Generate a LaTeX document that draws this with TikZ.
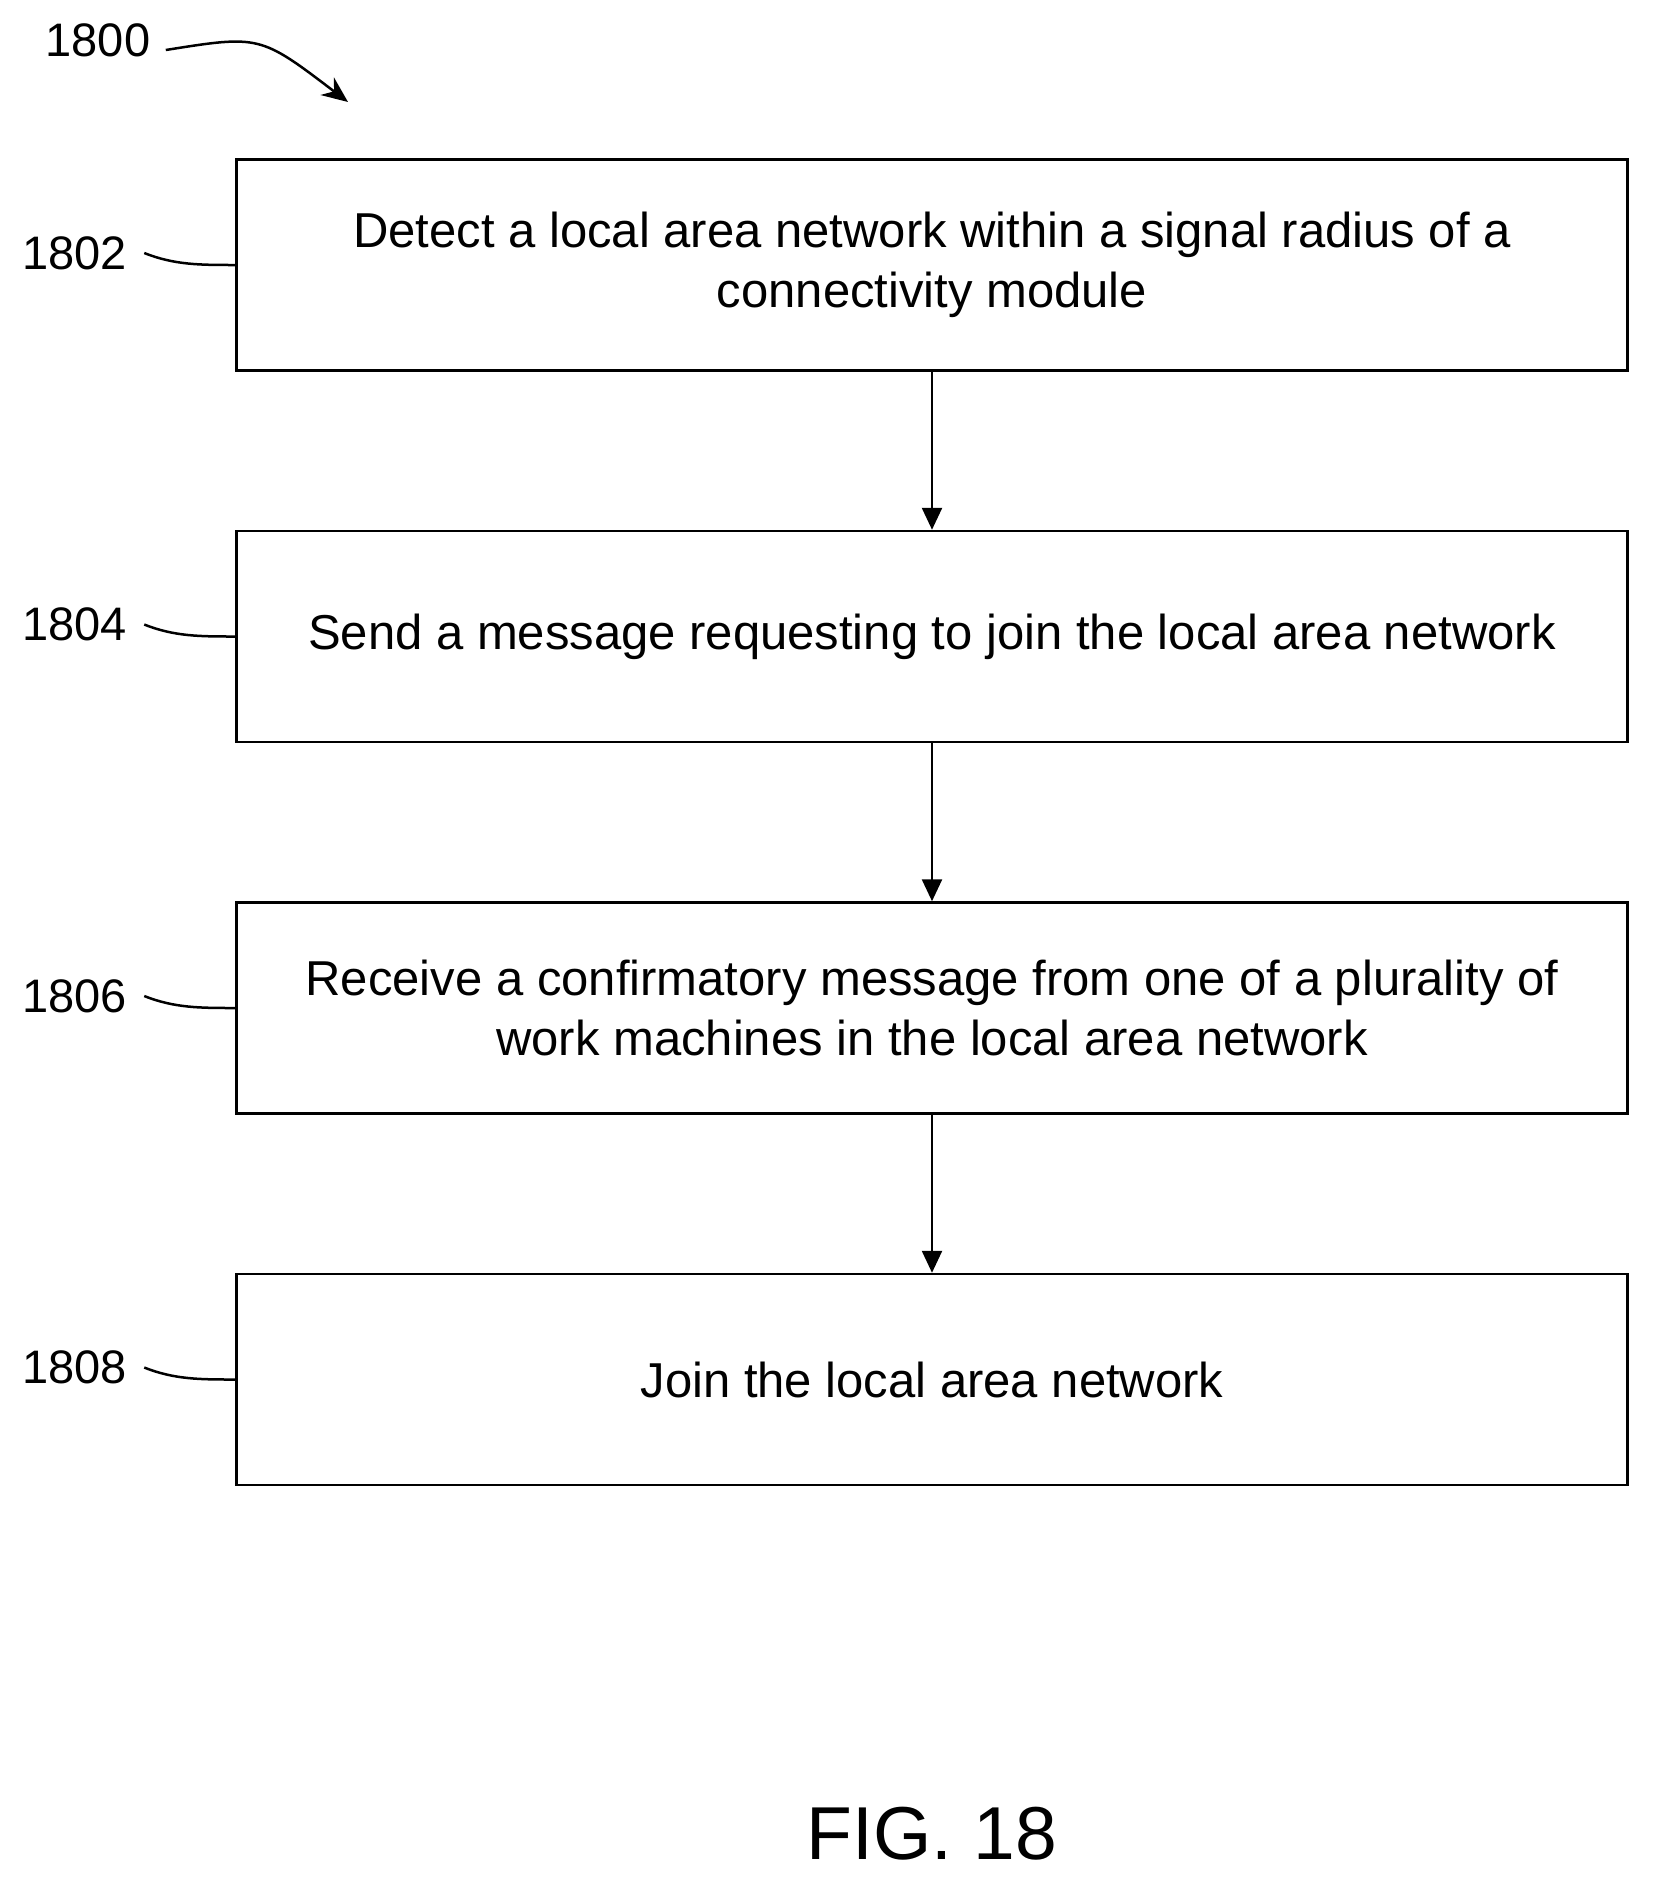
\documentclass[tikz,border=0pt]{standalone}
\usepackage{fontspec}
\setmainfont{Liberation Sans}
\usetikzlibrary{positioning,arrows.meta}

\begin{document}
\begin{tikzpicture}[x=1pt,y=-1pt,
    procbox/.style={draw,line width=2.5pt,minimum width=1391pt,minimum height=211pt,
      align=center,font=\fontsize{49}{60}\selectfont},
    reflabel/.style={font=\fontsize{47}{56}\selectfont,anchor=east},
    flow/.style={-{Triangle[length=22pt,width=20pt]},line width=2.5pt}]
  \useasboundingbox (0,0) rectangle (1656,1890);
  % process steps
  \node[procbox] (detect) at (932,265) {Detect a local area network within a signal radius of a\\connectivity module};
  \node[procbox,below=158pt of detect] (send) {Send a message requesting to join the local area network};
  \node[procbox,below=158pt of send] (receive) {Receive a confirmatory message from one of a plurality of\\work machines in the local area network};
  \node[procbox,below=158pt of receive] (join) {Join the local area network};
  \draw[flow] (detect) -- (send);
  \draw[flow] (send) -- (receive);
  \draw[flow] (receive) -- (join);
  % reference numerals
  \foreach \n/\lbl in {detect/1802,send/1804,receive/1806,join/1808}{
    \node[reflabel] (l\lbl) at ([xshift=-105pt,yshift=12pt]\n.west) {\lbl};
    \draw[line width=2.5pt] (l\lbl.east) ++(14pt,0) .. controls +(30pt,-12pt) and +(-35pt,0) .. (\n.west);
  }
  \node[font=\fontsize{47}{56}\selectfont] (fig) at (98,40) {1800};
  \draw[-{Stealth[length=26pt,width=22pt]},line width=2.5pt] (fig.east) ++(12pt,-10pt) .. controls (260,35) .. (348,102);
  \node[font=\fontsize{75}{90}\selectfont] (title) at (932,1834) {FIG. 18};
\end{tikzpicture}
\end{document}
